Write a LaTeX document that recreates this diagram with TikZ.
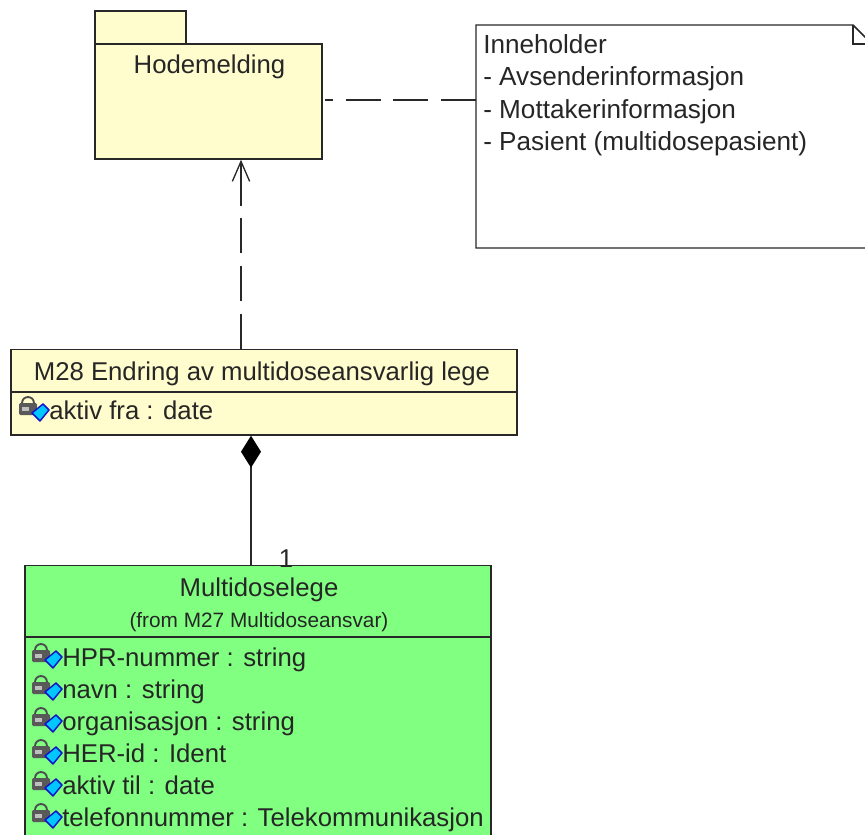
\documentclass[tikz,border=0pt]{standalone}
\usepackage{fontspec}
\setmainfont{Liberation Sans}
\usetikzlibrary{arrows.meta, calc}
\definecolor{pkgyellow}{RGB}{255,252,205}
\definecolor{classgreen}{RGB}{128,255,128}
\definecolor{linegrey}{RGB}{40,40,40}
\definecolor{iconcyan}{RGB}{0,200,255}
\definecolor{iconblue}{RGB}{20,20,200}
\tikzset{
x=0.75pt, y=-0.75pt,
every node/.style={font=\fontsize{19.3}{22}\selectfont, text=black!85},
box/.style={draw=linegrey, line width=1.1pt, inner sep=0pt}, % all outlined shapes
pkgbox/.style={box, fill=pkgyellow, minimum width=170.25pt, minimum height=86.25pt},
attr/.style={anchor=west, inner sep=0pt, text height=14pt, text depth=4pt},
dep/.style={linegrey, line width=1pt, dash pattern=on 26.25pt off 9.5pt}, % long dashes
attricon/.pic={
  \draw[black!70, line width=1.4pt] (-27,-10) arc (180:360:6);
  \fill[black!65, rounded corners=1pt] (-30,-10) rectangle (-12,2);
  \fill[black!25] (-27,-6) rectangle (-20,-2);
  \draw[iconblue, fill=iconcyan, line width=1.1pt, line join=round] (-17,0) -- (-6,-9) -- (0,-3) -- (-9,8) -- cycle;
},
}
\begin{document}
\begin{tikzpicture}
        \clip (0,0) rectangle (865,835);
        \fill[white] (0,0) rectangle (865,835);

        % package and note
        \node[box, fill=pkgyellow, minimum width=68.25pt, minimum height=24.75pt] (hodetab) at (140.5,27.5) {};
        \node[pkgbox] (hodemelding) at (208.5,101.5) {};
        \node (hodetext) at (209.5,67) {Hodemelding};

        \coordinate (notetl) at (476,25);
        \draw[box, fill=white] (notetl) -- (853,25) -- (880,52) -- (880,248) -- (476,248) -- cycle;
        \draw[box] (853,25) -- (853,44) -- (880,44);
        \node[anchor=north west, inner sep=0pt, align=left, text depth=0pt, font=\fontsize{19.6}{22}\selectfont] (note) at (483,34)
          {Inneholder\\[2.4pt]- Avsenderinformasjon\\[2.4pt]- Mottakerinformasjon\\[2.4pt]- Pasient (multidosepasient)};
        \coordinate (notewest) at (476,100);

        % classes
        \node[box, fill=pkgyellow, minimum width=379.5pt, minimum height=32.25pt] (m28) at (264,371) {};
        \node (m28text) at (262,374) {M28 Endring av multidoseansvarlig lege};
        \node[box, fill=pkgyellow, minimum width=379.5pt, minimum height=32.25pt] (m28attr) at (264,413.5) {};
        \node[attr] (aktivfra) at (49,413) {aktiv fra : date};
        \pic at (aktivfra.west) {attricon};

        \node[box, fill=classgreen, minimum width=349.5pt, minimum height=53.25pt] (multidoselege) at (258,601) {};
        \node (lege) at (259,590) {Multidoselege};
        \node[font=\fontsize{15.6}{17}\selectfont] (legefrom) at (259,622) {(from M27 Multidoseansvar)};
        \node[box, fill=classgreen, minimum width=349.5pt, minimum height=150pt] (legeattr) at (258,737) {};

        \node[attr] (hpr) at (62,660) {HPR-nummer : string};
        \node[attr] (navn) at (62,692) {navn : string};
        \node[attr] (org) at (62,724) {organisasjon : string};
        \node[attr] (her) at (62,756) {HER-id : Ident};
        \node[attr] (aktivtil) at (62,788) {aktiv til : date};
        \node[attr] (tlf) at (62,820) {telefonnummer : Telekommunikasjon};
        \pic at (hpr.west) {attricon};
        \pic at (navn.west) {attricon};
        \pic at (org.west) {attricon};
        \pic at (her.west) {attricon};
        \pic at (aktivtil.west) {attricon};
        \pic at (tlf.west) {attricon};

        % connectors
        \coordinate (depx) at (241,0);
        \coordinate (compx) at (251,0);
        \coordinate (deptop) at (241,206);
        \draw[dep, shorten >=2pt] (notewest) -- (hodemelding.east |- notewest);
        \draw[dep] (depx |- m28.north) -- (deptop);
        \draw[linegrey, line width=1pt, -{Straight Barb[length=15pt, width=13pt, line width=1pt]}] (deptop) -- (depx |- hodemelding.south);
        \draw[linegrey, line width=1.1pt, {Diamond[length=24pt, width=15pt, black]}-] (compx |- m28attr.south) -- (compx |- multidoselege.north);
        \node[anchor=south, inner sep=0pt] (mult) at (286,568) {1};
      \end{tikzpicture}
\end{document}
